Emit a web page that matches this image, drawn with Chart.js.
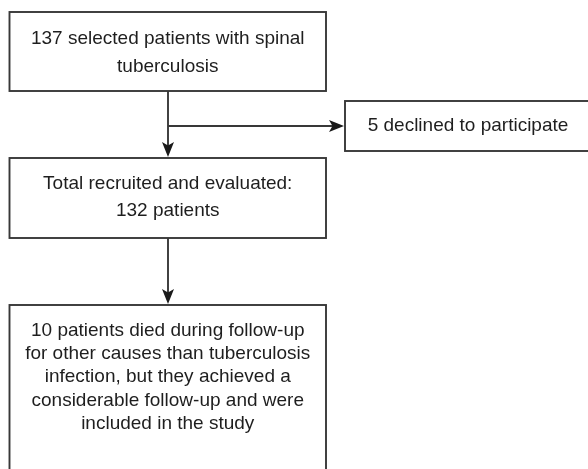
<!DOCTYPE html>
<html>
<head>
<meta charset="utf-8">
<script src="https://cdn.jsdelivr.net/npm/chart.js@4/dist/chart.umd.min.js"></script>
<style>
html,body{margin:0;padding:0;background:#fff;}
#wrap{width:588px;height:469px;}
</style>
</head>
<body>
<div id="wrap"><canvas id="c" width="588" height="469"></canvas></div>
<script>
// Flowchart content (text of each node)
const nodeNames = ["screened", "declined", "recruited", "died"];
const nodeText = [
  ["137 selected patients with spinal", "tuberculosis"],
  ["5 declined to participate"],
  ["Total recruited and evaluated:", "132 patients"],
  ["10 patients died during follow-up", "for other causes than tuberculosis", "infection, but they achieved a", "considerable follow-up and were", "included in the study"]
];
const edges = [["screened", "recruited"], ["screened", "declined"], ["recruited", "died"]];

// Layout (in scale units, mapped through Chart.js scales)
const layout = {
  screened:  {x0: 9.5, x1: 326, y0: 12,  y1: 91,  lh: 28.5, ty: 38.5},
  declined:  {x0: 345, x1: 600, y0: 101, y1: 151, lh: 24,   ty: 126},
  recruited: {x0: 9.5, x1: 326, y0: 158, y1: 238, lh: 27,   ty: 184},
  died:      {x0: 9.5, x1: 326, y0: 305, y1: 480, lh: 23.3, ty: 330.5}
};
const stemX = 168;
const branchY = 126;

const flowPlugin = {
  id: 'flow',
  afterDraw(chart) {
    const ctx = chart.ctx, xs = chart.scales.x, ys = chart.scales.y;
    const X = v => xs.getPixelForValue(v), Y = v => ys.getPixelForValue(v);
    ctx.save();
    ctx.strokeStyle = '#383838';
    ctx.lineWidth = 1.9;
    nodeNames.forEach((n, i) => {
      const b = layout[n];
      ctx.fillStyle = '#fff';
      ctx.fillRect(X(b.x0), Y(b.y0), X(b.x1) - X(b.x0), Y(b.y1) - Y(b.y0));
      ctx.strokeRect(X(b.x0), Y(b.y0), X(b.x1) - X(b.x0), Y(b.y1) - Y(b.y0));
      ctx.fillStyle = '#1e1e1e';
      ctx.font = '19px "Liberation Sans", Arial, sans-serif';
      ctx.textAlign = 'center';
      ctx.textBaseline = 'middle';
      const cx = n === 'declined' ? 468 : (b.x0 + b.x1) / 2;
      nodeText[i].forEach((t, k) => ctx.fillText(t, X(cx), Y(b.ty + k * b.lh)));
    });
    function arrowHead(tx, ty, dir) {
      const L = 15, W = 6, notch = 3.5;
      ctx.fillStyle = '#1a1a1a';
      ctx.beginPath();
      if (dir === 'down') {
        ctx.moveTo(tx, ty);
        ctx.lineTo(tx - W, ty - L);
        ctx.lineTo(tx, ty - L + notch);
        ctx.lineTo(tx + W, ty - L);
      } else {
        ctx.moveTo(tx, ty);
        ctx.lineTo(tx - L, ty - W);
        ctx.lineTo(tx - L + notch, ty);
        ctx.lineTo(tx - L, ty + W);
      }
      ctx.closePath();
      ctx.fill();
    }
    edges.forEach(([a, b]) => {
      const A = layout[a], B = layout[b];
      ctx.beginPath();
      if (b === 'declined') {
        ctx.moveTo(X(stemX), Y(branchY));
        ctx.lineTo(X(B.x0) - 8, Y(branchY));
        ctx.stroke();
        arrowHead(X(B.x0) - 1, Y(branchY), 'right');
      } else {
        ctx.moveTo(X(stemX), Y(A.y1));
        ctx.lineTo(X(stemX), Y(B.y0) - 8);
        ctx.stroke();
        arrowHead(X(stemX), Y(B.y0) - 1, 'down');
      }
    });
    ctx.restore();
  }
};

new Chart(document.getElementById('c'), {
  type: 'scatter',
  data: { datasets: [{ data: [], pointRadius: 0 }] },
  options: {
    responsive: false,
    animation: false,
    layout: { padding: 0 },
    plugins: { legend: { display: false }, tooltip: { enabled: false } },
    scales: {
      x: { type: 'linear', min: 0, max: 588, display: false },
      y: { type: 'linear', min: 0, max: 469, reverse: true, display: false }
    }
  },
  plugins: [flowPlugin]
});
</script>
</body>
</html>
